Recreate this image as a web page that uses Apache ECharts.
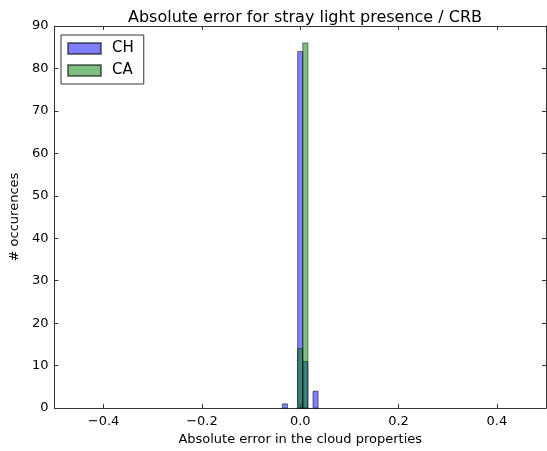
<!DOCTYPE html>
<html><head><meta charset="utf-8">
<script src="https://cdn.jsdelivr.net/npm/echarts@6/dist/echarts.min.js"></script>
<style>html,body{margin:0;padding:0;background:#fff}#c{width:547px;height:451px}</style>
</head><body><div id="c"></div>
<script>
// Data
const binWidth = 0.0104;
const chBinLefts = [-0.0364, -0.0052, 0.0052, 0.0260];
const chCounts = [1, 84, 11, 4];
const caBinLefts = [-0.0052, 0.0052];
const caCounts = [14, 86];
const xTicks = [-0.4, -0.2, 0.0, 0.2, 0.4];
const yTicks = [0, 10, 20, 30, 40, 50, 60, 70, 80, 90];

const FONT = 'DejaVu Sans';
const chart = echarts.init(document.getElementById('c'), null, {renderer: 'canvas'});

function toData(lefts, counts) {
  return lefts.map((l, i) => [l, l + binWidth, counts[i]]);
}
function renderBar(fill) {
  return function (params, api) {
    const p0 = api.coord([api.value(0), api.value(2)]);
    const p1 = api.coord([api.value(1), 0]);
    return {
      type: 'rect',
      shape: {x: p0[0], y: p0[1], width: p1[0] - p0[0], height: p1[1] - p0[1]},
      style: {fill: fill, stroke: 'rgba(0,0,0,0.5)', lineWidth: 1}
    };
  };
}
const fmt = v => (v.toFixed(1)).replace('-', '\u2212');
const axisLineStyle = {color: '#333', width: 1};

chart.setOption({
  animation: false,
  backgroundColor: '#fff',
  title: {
    text: 'Absolute error for stray light presence / CRB',
    left: 300, top: 5, textAlign: 'center',
    textStyle: {fontFamily: FONT, fontSize: 16, fontWeight: 'normal', color: '#000'}
  },
  legend: {
    left: 61, top: 35, orient: 'vertical',
    data: ['CH', 'CA'],
    icon: 'rect', itemWidth: 33, itemHeight: 11, itemGap: 7,
    padding: [6, 10, 6, 6],
    borderColor: '#333', borderWidth: 1, borderRadius: 0,
    textStyle: {fontFamily: FONT, fontSize: 15, color: '#000', padding: [0, 0, 0, 6]}
  },
  grid: {left: 52, right: 1, top: 26, bottom: 42, containLabel: false},
  xAxis: [{
    type: 'value', min: -0.5, max: 0.5,
    name: 'Absolute error in the cloud properties', nameLocation: 'middle', nameGap: 24,
    nameTextStyle: {fontFamily: FONT, fontSize: 13, color: '#000'},
    axisLine: {show: true, onZero: false, lineStyle: axisLineStyle},
    axisTick: {show: true, inside: true, length: 4, customValues: xTicks, lineStyle: axisLineStyle},
    axisLabel: {customValues: xTicks, formatter: fmt, fontFamily: FONT, fontSize: 13, color: '#000', margin: 7},
    splitLine: {show: false}
  }, {
    type: 'value', min: -0.5, max: 0.5, position: 'top',
    axisLine: {show: true, onZero: false, lineStyle: axisLineStyle},
    axisTick: {show: true, inside: true, length: 4, customValues: xTicks, lineStyle: axisLineStyle},
    axisLabel: {show: false}, splitLine: {show: false}
  }],
  yAxis: [{
    type: 'value', min: 0, max: 90, interval: 10,
    name: '# occurences', nameLocation: 'middle', nameGap: 33,
    nameTextStyle: {fontFamily: FONT, fontSize: 13, color: '#000'},
    axisLine: {show: true, onZero: false, lineStyle: axisLineStyle},
    axisTick: {show: true, inside: true, length: 4, lineStyle: axisLineStyle},
    axisLabel: {fontFamily: FONT, fontSize: 13, color: '#000', margin: 6,
      customValues: yTicks, formatter: v => String(v)},
    splitLine: {show: false}
  }, {
    type: 'value', min: 0, max: 90, interval: 10, position: 'right',
    axisLine: {show: true, onZero: false, lineStyle: axisLineStyle},
    axisTick: {show: true, inside: true, length: 4, lineStyle: axisLineStyle},
    axisLabel: {show: false}, splitLine: {show: false}
  }],
  series: [{
    name: 'CH', type: 'custom', xAxisIndex: 0, yAxisIndex: 0,
    renderItem: renderBar('rgba(0,0,255,0.5)'),
    itemStyle: {color: 'rgba(0,0,255,0.5)', borderColor: 'rgba(0,0,0,0.5)', borderWidth: 1},
    encode: {x: [0, 1], y: 2},
    data: toData(chBinLefts, chCounts)
  }, {
    name: 'CA', type: 'custom', xAxisIndex: 0, yAxisIndex: 0,
    renderItem: renderBar('rgba(0,128,0,0.5)'),
    itemStyle: {color: 'rgba(0,128,0,0.5)', borderColor: 'rgba(0,0,0,0.5)', borderWidth: 1},
    encode: {x: [0, 1], y: 2},
    data: toData(caBinLefts, caCounts)
  }]
});
</script></body></html>
